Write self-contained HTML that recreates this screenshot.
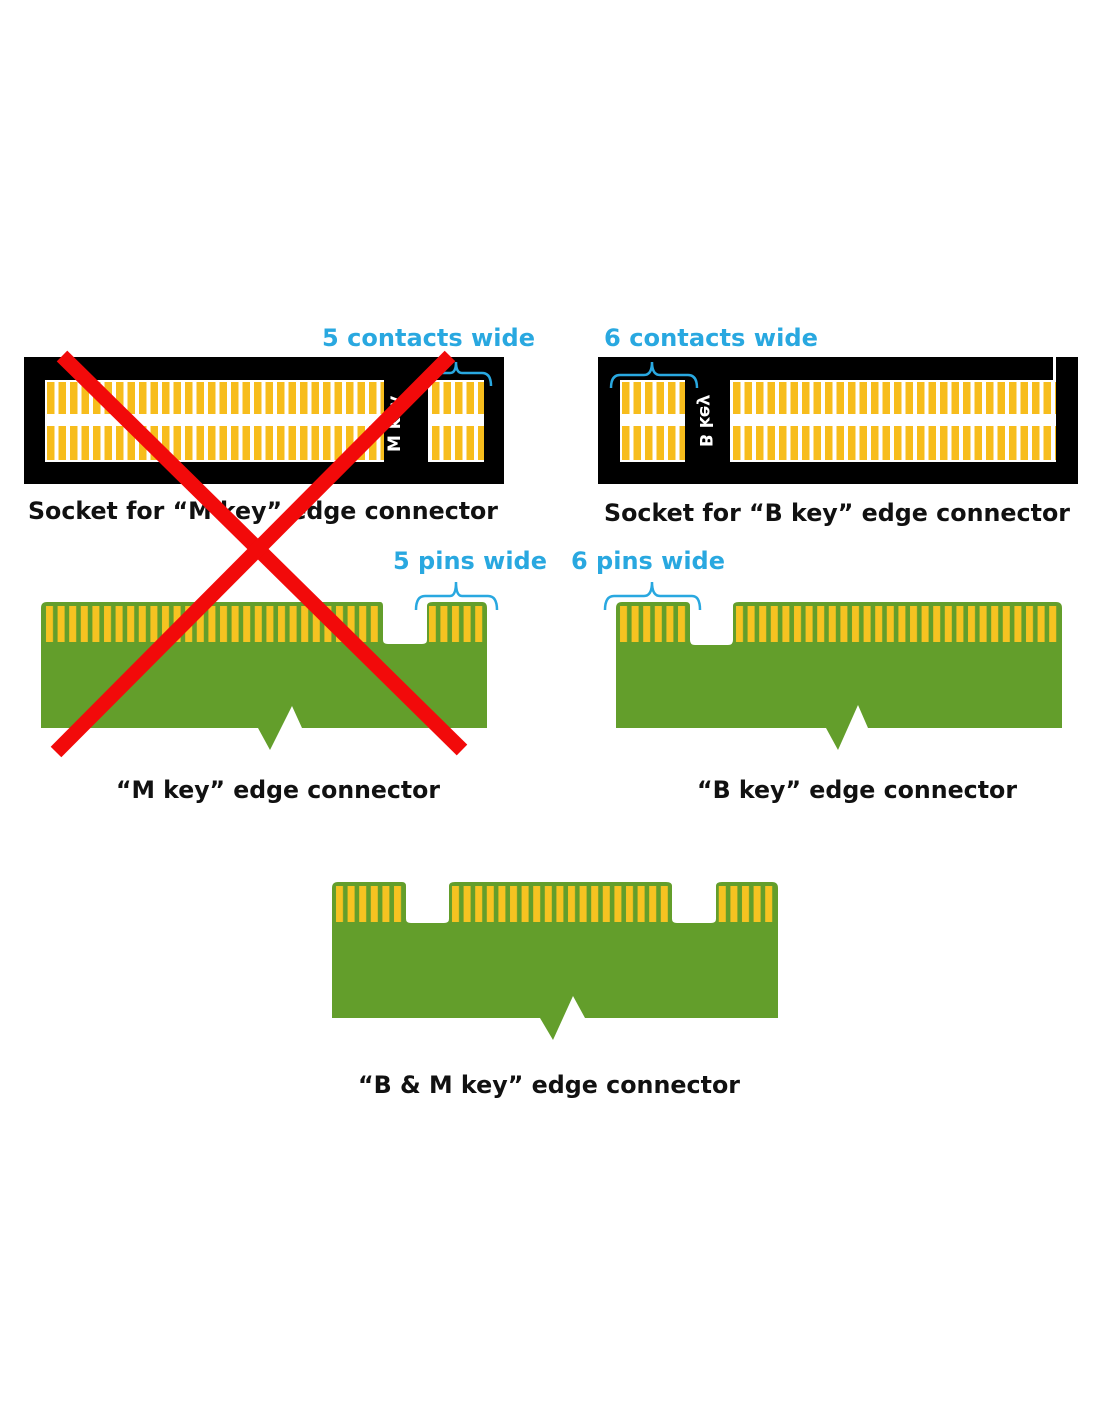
<!DOCTYPE html>
<html><head><meta charset="utf-8"><style>
html,body{margin:0;padding:0;background:#fff;}
svg{display:block;}
text{font-family:"DejaVu Sans","Liberation Sans",sans-serif;font-weight:bold;}
</style></head><body>
<svg width="1100" height="1422" viewBox="0 0 1100 1422" xmlns="http://www.w3.org/2000/svg">
<defs>
<pattern id="sw" x="47" y="0" width="11.5" height="10" patternUnits="userSpaceOnUse">
<rect width="11.5" height="10" fill="#fff"/><rect x="0" width="7.5" height="10" fill="#f7bd1c"/></pattern>
<pattern id="sw2" x="622" y="0" width="11.5" height="10" patternUnits="userSpaceOnUse">
<rect width="11.5" height="10" fill="#fff"/><rect x="0" width="7.5" height="10" fill="#f7bd1c"/></pattern>
<pattern id="sw3" x="432" y="0" width="11.5" height="10" patternUnits="userSpaceOnUse">
<rect width="11.5" height="10" fill="#fff"/><rect x="0" width="7.5" height="10" fill="#f7bd1c"/></pattern>
<pattern id="sw4" x="733" y="0" width="11.5" height="10" patternUnits="userSpaceOnUse">
<rect width="11.5" height="10" fill="#fff"/><rect x="0" width="7.5" height="10" fill="#f7bd1c"/></pattern>
<pattern id="gp" x="45" y="0" width="11.6" height="10" patternUnits="userSpaceOnUse">
<rect width="11.6" height="10" fill="#639e2b"/><rect x="1" width="7" height="10" fill="#f6c321"/></pattern>
<pattern id="gp2" x="619" y="0" width="11.6" height="10" patternUnits="userSpaceOnUse">
<rect width="11.6" height="10" fill="#639e2b"/><rect x="1" width="7" height="10" fill="#f6c321"/></pattern>
<pattern id="gp3" x="335" y="0" width="11.6" height="10" patternUnits="userSpaceOnUse">
<rect width="11.6" height="10" fill="#639e2b"/><rect x="1" width="7" height="10" fill="#f6c321"/></pattern>
</defs>

<!-- Socket M -->
<rect x="24" y="357" width="480" height="127" fill="#000"/>
<rect x="45" y="380" width="339" height="82" fill="#fff"/>
<rect x="45" y="382" width="339" height="32" fill="url(#sw)"/>
<rect x="45" y="426" width="339" height="34" fill="url(#sw)"/>
<rect x="428" y="380" width="56" height="82" fill="#fff"/>
<rect x="428" y="382" width="56" height="32" fill="url(#sw3)"/>
<rect x="428" y="426" width="56" height="34" fill="url(#sw3)"/>
<text x="0" y="0" font-size="17" fill="#fff" transform="translate(400,452) rotate(-90)">M key</text>

<!-- Socket B -->
<rect x="598" y="357" width="480" height="127" fill="#000"/>
<rect x="1053" y="357" width="3" height="23" fill="#fff"/>
<rect x="620" y="380" width="65" height="82" fill="#fff"/>
<rect x="620" y="382" width="65" height="32" fill="url(#sw2)"/>
<rect x="620" y="426" width="65" height="34" fill="url(#sw2)"/>
<rect x="730" y="380" width="326" height="82" fill="#fff"/>
<rect x="730" y="382" width="326" height="32" fill="url(#sw4)"/>
<rect x="730" y="426" width="326" height="34" fill="url(#sw4)"/>
<text x="0" y="0" font-size="17" fill="#fff" transform="translate(700,447) rotate(90) scale(-1,1)">B key</text>

<!-- brackets -->
<g fill="none" stroke="#29a8e0" stroke-width="2.5">
<path d="M426,386 Q426,373 436,373 L450,373 Q456,373 456,362 Q456,373 462,373 L482,373 Q491,373 491,386"/>
<path d="M611,388 Q611,375 620,375 L644,375 Q652,375 652,362 Q652,375 660,375 L688,375 Q697,375 697,388"/>
<path d="M416,610 Q416,596 425,596 L450,596 Q456,596 456,582 Q456,596 462,596 L488,596 Q497,596 497,610"/>
<path d="M605,610 Q605,596 614,596 L644,596 Q652,596 652,582 Q652,596 660,596 L692,596 Q700,596 700,610"/>
</g>

<g font-size="24" fill="#29a8e0">
<text x="322" y="346" textLength="213" lengthAdjust="spacingAndGlyphs">5 contacts wide</text>
<text x="604" y="346" textLength="214" lengthAdjust="spacingAndGlyphs">6 contacts wide</text>
<text x="393" y="569" textLength="154" lengthAdjust="spacingAndGlyphs">5 pins wide</text>
<text x="571" y="569" textLength="154" lengthAdjust="spacingAndGlyphs">6 pins wide</text>
</g>
<g font-size="24" fill="#111">
<text x="28" y="519" textLength="470" lengthAdjust="spacingAndGlyphs">Socket for “M key” edge connector</text>
<text x="604" y="521" textLength="466" lengthAdjust="spacingAndGlyphs">Socket for “B key” edge connector</text>
<text x="116" y="798" textLength="324" lengthAdjust="spacingAndGlyphs">“M key” edge connector</text>
<text x="697" y="798" textLength="320" lengthAdjust="spacingAndGlyphs">“B key” edge connector</text>
<text x="358" y="1093" textLength="382" lengthAdjust="spacingAndGlyphs">“B &amp; M key” edge connector</text>
</g>

<!-- Card M -->
<path d="M41,608 Q41,602 47,602 L380,602 Q383,602 383,606 L383,640 Q383,644 388,644 L422,644 Q427,644 427,640 L427,606 Q427,602 433,602 L482,602 Q487,602 487,608 L487,728 L302,728 L292,706 L270,750 L258,728 L41,728 Z" fill="#639e2b"/>
<rect x="45" y="606" width="336" height="36" fill="url(#gp)"/>
<rect x="429" y="606" width="55" height="36" fill="url(#gp)"/>

<!-- Card B -->
<path d="M616,608 Q616,602 622,602 L686,602 Q690,602 690,606 L690,640 Q690,645 695,645 L728,645 Q733,645 733,640 L733,606 Q733,602 739,602 L1056,602 Q1062,602 1062,608 L1062,728 L868,728 L858,705 L838,750 L826,728 L616,728 Z" fill="#639e2b"/>
<rect x="619" y="606" width="68" height="36" fill="url(#gp2)"/>
<rect x="735" y="606" width="324" height="36" fill="url(#gp2)"/>

<!-- Card BM -->
<path d="M332,888 Q332,882 338,882 L402,882 Q406,882 406,886 L406,919 Q406,923 411,923 L444,923 Q449,923 449,919 L449,886 Q449,882 455,882 L666,882 Q672,882 672,886 L672,919 Q672,923 677,923 L711,923 Q716,923 716,919 L716,886 Q716,882 722,882 L772,882 Q778,882 778,888 L778,1018 L585,1018 L573,996 L553,1040 L540,1018 L332,1018 Z" fill="#639e2b"/>
<rect x="335" y="886" width="69" height="36" fill="url(#gp3)"/>
<rect x="451" y="886" width="219" height="36" fill="url(#gp3)"/>
<rect x="718" y="886" width="57" height="36" fill="url(#gp3)"/>

<!-- Red X -->
<g stroke="#f20a0a" stroke-width="15" stroke-linecap="butt">
<line x1="62" y1="356" x2="462" y2="750"/>
<line x1="450" y1="356" x2="56" y2="752"/>
</g>
</svg>
</body></html>
